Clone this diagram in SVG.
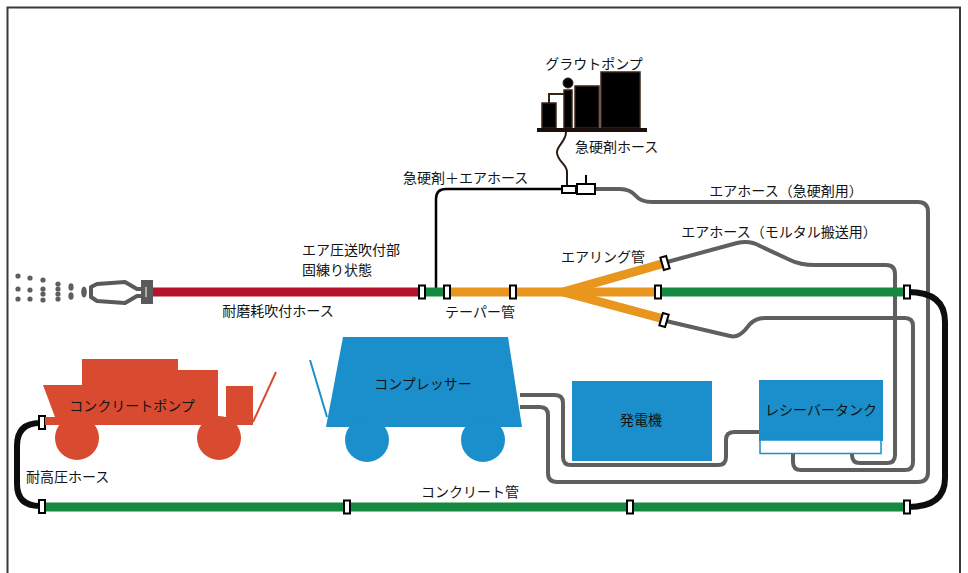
<svg xmlns="http://www.w3.org/2000/svg" width="968" height="573" viewBox="0 0 968 573">
  <style>
    text { font-family: "Noto Sans CJK JP", "Noto Sans", sans-serif; font-size: 14px; fill: #141414; }
    .frame { fill: none; stroke: #3a3a3a; stroke-width: 2; }
    .joint { fill: #fff; stroke: #000; stroke-width: 2; }
    .air { fill: none; stroke: #5f5f5f; stroke-width: 4; stroke-linejoin: round; }
    .pipe { fill: none; stroke-width: 9; }
    .green { stroke: #14893f; }
    .orange { stroke: #e8961e; }
    .red { stroke: #b5122b; }
    .blackhose { fill: none; stroke: #0d0d0d; stroke-width: 6; }
    .blue { fill: #1b8fcb; }
    .pumpred { fill: #d94b30; }
    .grout { fill: #000; stroke: #3a2418; stroke-width: 1.5; }
    .spray { fill: #5e5e5e; }
  </style>

  <!-- outer frame -->
  <path class="frame" d="M7.5,575 V7.5 H960 V575"/>

  <g id="connectors">
    <!-- air hose for accelerator line (grout pump -> compressor) -->
    <path class="air" d="M595,189 H620 Q630,189 636,196 Q641,202 652,202 H918 Q928,202 928,212 V472 Q928,482 918,482 H557 Q548,482 548,473 V415 Q548,407 540,407 H520"/>
    <!-- compressor -> receiver tank -->
    <path class="air" d="M520,395 H555 Q563,395 563,403 V457 Q563,465 571,465 H718 Q726,465 726,457 V440 Q726,432 734,432 H760"/>
    <!-- mortar transport air hose, upper branch -->
    <path class="air" d="M667,262 L737,243 Q750,240 760,246 L790,260 Q800,265 815,265 H886 Q895,265 895,274 V455 Q895,463 887,463 H860 Q852,463 852,455 V441"/>
    <!-- mortar transport air hose, lower branch -->
    <path class="air" d="M666,321 L730,336 Q738,338 745,330 L750,324 Q756,318 765,318 H905 Q913,318 913,326 V462 Q913,470 905,470 H801 Q793,470 793,462 V441"/>

    <!-- accelerator hose from grout pump (wavy) -->
    <path d="M566,132 C566,142 556,146 557,153 C558,162 567,164 567,172 L567,187" fill="none" stroke="#2a1a10" stroke-width="2"/>
    <!-- accelerator + air hose -->
    <path d="M562,189 H446 Q436,189 436,199 V288" fill="none" stroke="#000" stroke-width="2.5"/>

    <!-- main spraying line -->
    <line class="pipe red" x1="152" y1="292" x2="422" y2="292"/>
    <line class="pipe green" x1="422" y1="292" x2="447" y2="292"/>
    <line class="pipe orange" x1="447" y1="292" x2="658" y2="292"/>
    <path class="pipe orange" d="M563,292 L665,263 M563,292 L664,319" stroke-width="8"/>
    <line class="pipe green" x1="658" y1="292" x2="907" y2="292"/>

    <!-- concrete pipe -->
    <line class="pipe green" x1="42" y1="507" x2="907" y2="507"/>

    <!-- high pressure hoses -->
    <path class="blackhose" d="M908,292 Q945,292 945,322 V478 Q945,507 908,507"/>
    <path class="blackhose" d="M40,423 Q17,423 17,446 V484 Q17,506 40,506"/>

    <!-- joints -->
    <rect class="joint" x="419" y="285.5" width="6" height="13"/>
    <rect class="joint" x="444" y="285.5" width="6" height="13"/>
    <rect class="joint" x="510" y="285.5" width="6" height="13"/>
    <rect class="joint" x="655" y="285.5" width="6" height="13"/>
    <rect class="joint" x="904" y="285.5" width="6" height="13"/>
    <rect class="joint" x="-3" y="-6.5" width="6" height="13" transform="translate(665,263) rotate(-16)"/>
    <rect class="joint" x="-3" y="-6.5" width="6" height="13" transform="translate(664,320) rotate(16)"/>
    <rect class="joint" x="39" y="416" width="6" height="13"/>
    <rect class="joint" x="39" y="500" width="6" height="13"/>
    <rect class="joint" x="344" y="500.5" width="6" height="13"/>
    <rect class="joint" x="627" y="500.5" width="6" height="13"/>
    <rect class="joint" x="904" y="500.5" width="6" height="13"/>
    <!-- grout hose coupling -->
    <rect class="joint" x="562" y="186" width="14" height="7"/>
    <rect class="joint" x="577" y="184" width="18" height="10"/>
    <line x1="586" y1="175" x2="586" y2="184" stroke="#000" stroke-width="2"/>
  </g>

  <!-- nozzle and spray -->
  <g id="nozzle">
    <g class="spray">
      <circle cx="18" cy="276" r="2.6"/><circle cx="18" cy="289" r="2.6"/><circle cx="18" cy="299" r="2.6"/>
      <circle cx="30" cy="278" r="2.6"/><circle cx="30" cy="290" r="2.6"/><circle cx="30" cy="299" r="2.6"/>
      <circle cx="43" cy="280" r="2.6"/><circle cx="43" cy="289" r="2.6"/><circle cx="43" cy="294" r="2.6"/><circle cx="43" cy="300" r="2.6"/>
      <circle cx="58" cy="284" r="2.6"/><circle cx="58" cy="289" r="2.6"/><circle cx="58" cy="294" r="2.6"/><circle cx="58" cy="299" r="2.6"/>
      <ellipse cx="71" cy="287" rx="2.6" ry="3.8"/><ellipse cx="71" cy="296" rx="2.6" ry="3.8"/>
      <ellipse cx="84" cy="292" rx="2.8" ry="5.5"/>
    </g>
    <path d="M91,287 L97,284 L125,282 L137,289 H143 V296 H137 L125,303 L97,301 L91,297 Z" fill="#fff" stroke="#5a5a5a" stroke-width="4" stroke-linejoin="round"/>
    <rect x="141" y="280" width="12" height="24" fill="#5a5a5a"/>
    <line x1="146" y1="287" x2="146" y2="297" stroke="#fff" stroke-width="1"/>
  </g>

  <!-- grout pump -->
  <g id="grout-pump">
    <rect class="grout" x="542" y="103" width="14" height="25"/>
    <path d="M549,103 V94 H565" fill="none" stroke="#3a2418" stroke-width="2"/>
    <rect class="grout" x="564" y="90" width="8" height="38"/>
    <circle cx="568" cy="83" r="5" fill="#000" stroke="#3a2418" stroke-width="1"/>
    <rect class="grout" x="575" y="86" width="24" height="42"/>
    <rect class="grout" x="601" y="72" width="39" height="56"/>
    <rect x="537" y="128" width="110" height="4" fill="#1a0f0a"/>
    <text x="594" y="69" text-anchor="middle">グラウトポンプ</text>
  </g>

  <!-- concrete pump -->
  <g id="concrete-pump">
    <polygon class="pumpred" points="43,385 82,385 82,359 178,359 178,370 218,370 218,417 226,417 226,386 253,386 253,425 45,425 45,417 55,417"/>
    <circle class="pumpred" cx="77" cy="438" r="22"/>
    <circle class="pumpred" cx="219" cy="438" r="22"/>
    <line x1="253" y1="422" x2="276" y2="372" stroke="#d94b30" stroke-width="2"/>
    <text x="132" y="411" text-anchor="middle">コンクリートポンプ</text>
  </g>

  <!-- compressor -->
  <g id="compressor">
    <polygon class="blue" points="343,337 508,337 522,427 326,427"/>
    <circle class="blue" cx="367" cy="440" r="22"/>
    <circle class="blue" cx="483" cy="440" r="22"/>
    <line x1="310" y1="360" x2="327" y2="417" stroke="#1b8fcb" stroke-width="2"/>
    <text x="423" y="389" text-anchor="middle">コンプレッサー</text>
  </g>

  <!-- generator -->
  <g id="generator">
    <rect class="blue" x="572" y="381" width="140" height="80"/>
    <text x="641" y="425" text-anchor="middle">発電機</text>
  </g>

  <!-- receiver tank -->
  <g id="receiver-tank">
    <rect class="blue" x="759" y="380" width="124" height="61"/>
    <rect x="760" y="440" width="121" height="13.5" fill="#fff" stroke="#1b8fcb" stroke-width="1.5"/>
    <text x="821" y="415" text-anchor="middle">レシーバータンク</text>
  </g>

  <!-- labels -->
  <g id="labels">
    <text x="575" y="152">急硬剤ホース</text>
    <text x="403" y="183">急硬剤＋エアホース</text>
    <text x="786" y="196" text-anchor="middle">エアホース（急硬剤用）</text>
    <text x="779" y="237" text-anchor="middle">エアホース（モルタル搬送用）</text>
    <text x="603" y="262" text-anchor="middle">エアリング管</text>
    <text x="302" y="255">エア圧送吹付部</text>
    <text x="302" y="275">固練り状態</text>
    <text x="278" y="316" text-anchor="middle">耐磨耗吹付ホース</text>
    <text x="480" y="317" text-anchor="middle">テーパー管</text>
    <text x="26" y="482">耐高圧ホース</text>
    <text x="470" y="497" text-anchor="middle">コンクリート管</text>
  </g>
</svg>
